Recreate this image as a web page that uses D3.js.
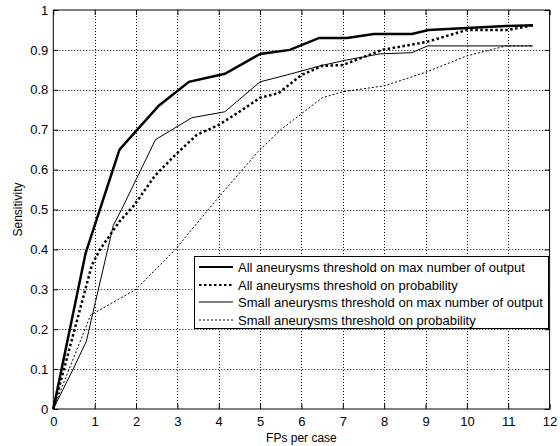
<!DOCTYPE html>
<html lang="en">
<head>
    <meta charset="utf-8">
    <title>Sensitivity vs FPs per case</title>
    <style>
        body { margin: 0; background: #fff; }
        svg { display: block; font-family: "Liberation Sans", Arial, sans-serif; }
    </style>
</head>
<body>
    <svg class="chart"></svg>

    <script src="https://d3js.org/d3.v7.min.js"></script>
    <script>
        // Values: [FPs per case, sensitivity]
        var allMax = [[0, 0], [0.78, 0.39], [1.6, 0.65], [2.55, 0.76], [3.28, 0.82], [4.15, 0.84],
            [5, 0.89], [5.72, 0.9], [6.43, 0.93], [7.1, 0.93], [7.75, 0.94], [8.67, 0.94],
            [9.07, 0.95], [10, 0.955], [10.95, 0.96], [11.6, 0.962]];
        var allProb = [[0, 0], [0.93, 0.36], [1.13, 0.4], [1.6, 0.47], [1.95, 0.51], [2.46, 0.585],
            [2.98, 0.64], [3.47, 0.687], [4, 0.712], [4.5, 0.745], [5, 0.78], [5.45, 0.792],
            [6, 0.837], [6.5, 0.86], [7, 0.862], [7.95, 0.9], [9.03, 0.92], [10, 0.95],
            [11, 0.95], [11.6, 0.962]];
        var smallMax = [[0, 0], [0.48, 0.1], [0.8, 0.17], [1, 0.26], [1.45, 0.46], [1.65, 0.5],
            [2.47, 0.675], [3.35, 0.73], [4.15, 0.745], [5, 0.82], [5.75, 0.84], [6.45, 0.86],
            [7.1, 0.875], [7.9, 0.89], [8.67, 0.893], [9.05, 0.91], [11.6, 0.91]];
        var smallProb = [[0, 0], [0.9, 0.235], [2, 0.3], [2.95, 0.4], [3.95, 0.525], [4.95, 0.645],
            [5.5, 0.7], [6, 0.74], [6.5, 0.78], [7, 0.795], [8, 0.81], [8.6, 0.83], [9.03, 0.845],
            [10, 0.885], [10.95, 0.91], [11.6, 0.91]];

        var seriesNames = ["All aneurysms threshold on max number of output",
            "All aneurysms threshold on probability",
            "Small aneurysms threshold on max number of output",
            "Small aneurysms threshold on probability"];

        var xTicks = d3.range(0, 13, 1);
        var yTicks = d3.range(0, 11, 1).map(function(d) { return d / 10; });

        var width = 560,
            height = 446;

        var styles = [
            {width: 2.5, dash: null},
            {width: 2.5, dash: "2.5,2.5"},
            {width: 1, dash: null},
            {width: 1, dash: "2,2"}
        ];
        var series = [allMax, allProb, smallMax, smallProb];

        var x = d3.scaleLinear().domain([0, 12]).range([53.3, 549.6]);
        var y = d3.scaleLinear().domain([0, 1]).range([409, 10]);

        var chart = d3.select(".chart")
            .attr("width", width)
            .attr("height", height);

        // grid
        var grid = chart.append("g")
            .attr("stroke", "#000")
            .attr("stroke-width", 1)
            .attr("stroke-dasharray", "1,2");

        grid.selectAll(".vgrid")
            .data(xTicks.slice(1, -1))
            .enter().append("line")
            .attr("x1", function(d) { return Math.round(x(d)) + 0.5; })
            .attr("x2", function(d) { return Math.round(x(d)) + 0.5; })
            .attr("y1", y(1))
            .attr("y2", y(0));

        grid.selectAll(".hgrid")
            .data(yTicks.slice(1, -1))
            .enter().append("line")
            .attr("x1", x(0))
            .attr("x2", x(12))
            .attr("y1", function(d) { return Math.round(y(d)) + 0.5; })
            .attr("y2", function(d) { return Math.round(y(d)) + 0.5; });

        // curves
        var line = d3.line()
            .x(function(d) { return x(d[0]); })
            .y(function(d) { return y(d[1]); });

        chart.selectAll(".curve")
            .data(series)
            .enter().append("path")
            .attr("class", "curve")
            .attr("d", line)
            .attr("fill", "none")
            .attr("stroke", "#000")
            .attr("stroke-width", function(d, i) { return styles[i].width; })
            .attr("stroke-dasharray", function(d, i) { return styles[i].dash; });

        // axes with inward ticks on all four sides
        function styleAxis(g) {
            g.select(".domain").remove();
            g.selectAll("text")
                .attr("fill", "#000")
                .style("font-size", "13px")
                .style("font-family", "'Liberation Sans', Arial, sans-serif");
        }

        chart.append("g")
            .attr("transform", "translate(0," + y(0) + ")")
            .call(d3.axisBottom(x).tickValues(xTicks).tickSize(-5).tickPadding(8).tickFormat(d3.format("d")))
            .call(styleAxis);

        chart.append("g")
            .attr("transform", "translate(0," + y(1) + ")")
            .call(d3.axisTop(x).tickValues(xTicks).tickSize(-5).tickFormat(""))
            .call(styleAxis);

        chart.append("g")
            .attr("transform", "translate(" + x(0) + ",0)")
            .call(d3.axisLeft(y).tickValues(yTicks).tickSize(-5).tickPadding(5).tickFormat(function(d) { return d === 0 || d === 1 ? d3.format("d")(d) : d3.format(".1f")(d); }))
            .call(styleAxis);

        chart.append("g")
            .attr("transform", "translate(" + x(12) + ",0)")
            .call(d3.axisRight(y).tickValues(yTicks).tickSize(-5).tickFormat(""))
            .call(styleAxis);

        // frame
        chart.append("rect")
            .attr("x", x(0))
            .attr("y", y(1))
            .attr("width", x(12) - x(0))
            .attr("height", y(0) - y(1))
            .attr("fill", "none")
            .attr("stroke", "#000")
            .attr("stroke-width", 1);

        // axis titles
        chart.append("text")
            .attr("x", (x(0) + x(12)) / 2)
            .attr("y", 442)
            .attr("text-anchor", "middle")
            .style("font-size", "12px")
            .text("FPs per case");

        chart.append("text")
            .attr("transform", "translate(22," + (y(0) + y(1)) / 2 + ") rotate(-90)")
            .attr("text-anchor", "middle")
            .style("font-size", "12px")
            .text("Sensitivity");

        // legend
        var legend = chart.append("g");

        legend.append("rect")
            .attr("x", 194.5)
            .attr("y", 256.5)
            .attr("width", 354)
            .attr("height", 72)
            .attr("fill", "#fff")
            .attr("stroke", "#000")
            .attr("stroke-width", 1);

        var rowY = [267, 285, 302, 320];

        var item = legend.selectAll(".item")
            .data(seriesNames)
            .enter().append("g")
            .attr("transform", function(d, i) { return "translate(0," + rowY[i] + ")"; });

        item.append("line")
            .attr("x1", 199)
            .attr("x2", 233)
            .attr("stroke", "#000")
            .attr("stroke-width", function(d, i) { return styles[i].width === 1 ? 1 : 2; })
            .attr("stroke-dasharray", function(d, i) { return styles[i].dash; });

        item.append("text")
            .attr("x", 238)
            .attr("dy", "0.35em")
            .style("font-size", "13px")
            .text(function(d) { return d; });
    </script>
</body>
</html>
